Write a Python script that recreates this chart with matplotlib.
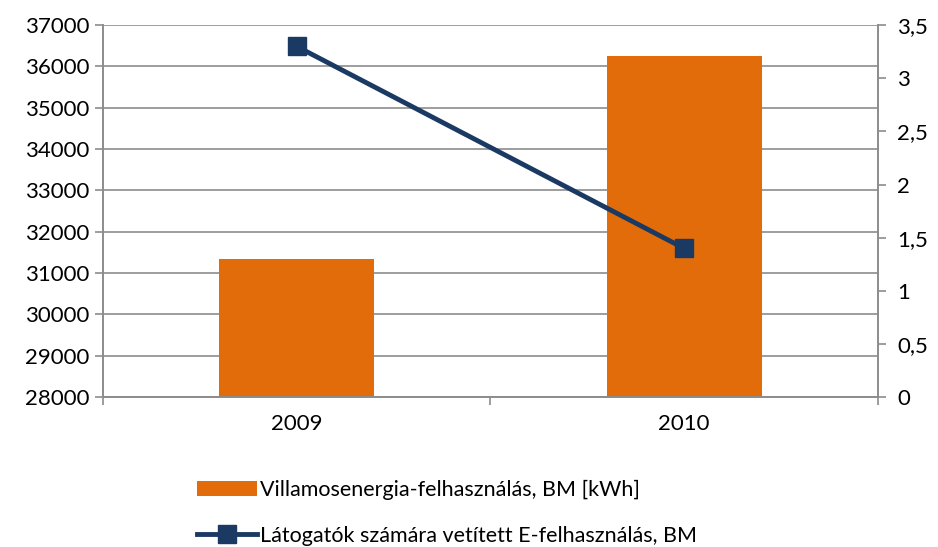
import numpy as np
import matplotlib.pyplot as plt

plt.rcParams['font.family'] = ['Lato', 'DejaVu Sans']

years = ['2009', '2010']
energy_kwh = [31350, 36250]
visitor_energy = [3.3, 1.4]

bar_color = '#E36C0A'
line_color = '#1B3A63'
grid_color = '#8C8C8C'

fig = plt.figure(figsize=(9.38, 5.47), dpi=100)
ax = fig.add_axes([0.1098, 0.274, 0.826, 0.68])
x = np.arange(len(years))

bars = ax.bar(x, energy_kwh, width=0.4, color=bar_color, zorder=2,
              label='Villamosenergia-felhasználás, BM [kWh]')
ax.set_ylim(28000, 37000)
ax.set_yticks(np.arange(28000, 37001, 1000))
ax.set_xlim(-0.5, 1.5)
ax.set_xticks(x)
ax.set_xticklabels(years)
ax.set_xticks([-0.5, 0.5, 1.5], minor=True)
ax.tick_params(axis='x', which='major', length=0, pad=12, labelsize=16)
ax.tick_params(axis='x', which='minor', length=6, width=1.2, color=grid_color, direction='out')
ax.tick_params(axis='y', length=6, width=1.2, color=grid_color, labelsize=16, pad=4)
ax.grid(axis='y', color=grid_color, linewidth=1.2, zorder=0)
ax.spines['top'].set_visible(False)
for s in ['left', 'bottom', 'right']:
    ax.spines[s].set_color(grid_color)
    ax.spines[s].set_linewidth(1.2)

ax2 = ax.twinx()
line, = ax2.plot(x, visitor_energy, color=line_color, linewidth=3.5, marker='s',
                 markersize=13, label='Látogatók számára vetített E-felhasználás, BM')
ax2.set_ylim(0, 3.5)
ax2.set_yticks(np.arange(0, 3.51, 0.5))
ax2.set_yticklabels(['0', '0,5', '1', '1,5', '2', '2,5', '3', '3,5'])
ax2.tick_params(axis='y', length=6, width=1.2, color=grid_color, labelsize=16, pad=8)
ax2.spines['top'].set_visible(False)
for s in ['left', 'bottom', 'right']:
    ax2.spines[s].set_color(grid_color)
    ax2.spines[s].set_linewidth(1.2)

fig.legend([bars, line], [bars.get_label(), line.get_label()],
           loc='upper left', bbox_to_anchor=(0.21, 0.123), ncol=1, frameon=False,
           fontsize=15.5, handlelength=2.8, handletextpad=0.15, labelspacing=1.2,
           borderpad=0, borderaxespad=0)

fig.savefig('out.png', dpi=100)
